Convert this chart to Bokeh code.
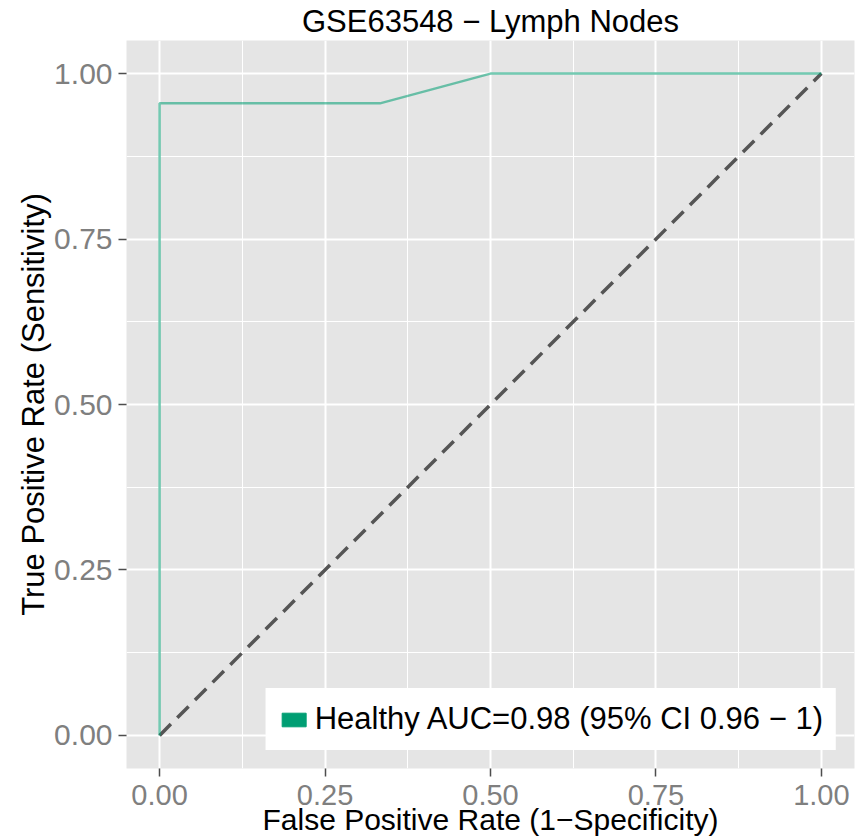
from bokeh.plotting import figure
from bokeh.models import FixedTicker, Range1d, Legend, LegendItem
from bokeh.embed import file_html
from bokeh.resources import INLINE

# ROC curve data
fpr = [0.0, 0.0, 0.333, 0.5, 1.0]
tpr = [0.0, 0.955, 0.955, 1.0, 1.0]
diag_x = [0.0, 1.0]
diag_y = [0.0, 1.0]
ticks = [0.0, 0.25, 0.5, 0.75, 1.0]
minor = [0.125, 0.375, 0.625, 0.875]
tick_labels = {0.0: "0.00", 0.25: "0.25", 0.5: "0.50", 0.75: "0.75", 1.0: "1.00"}
legend_label = "Healthy AUC=0.98 (95% CI 0.96 \u2212 1)"
title_text = "GSE63548 \u2212 Lymph Nodes"
# legend-key stand-in (placed outside the visible range)
key_x = [-10.0]
key_y = [-10.0]

FONT = "Liberation Sans"

p = figure(width=868, height=840, output_backend="svg", toolbar_location=None,
           x_range=Range1d(-0.05, 1.05), y_range=Range1d(-0.05, 1.05),
           min_border_left=126, min_border_right=14, min_border_top=40, min_border_bottom=72)
p.title.text = title_text
p.title.align = "center"
p.title.text_font = FONT
p.title.text_font_size = "31px"
p.title.text_font_style = "normal"
p.title.text_color = "black"
p.title.standoff = 3

p.background_fill_color = "#E5E5E5"
p.border_fill_color = "white"
p.outline_line_color = None

for ax in (p.xaxis[0], p.yaxis[0]):
    ax.ticker = FixedTicker(ticks=ticks, minor_ticks=minor)
    ax.major_label_overrides = tick_labels
    ax.major_label_text_font = FONT
    ax.major_label_text_color = "#7F7F7F"
    ax.axis_line_color = None
    ax.major_tick_in = 0
    ax.major_tick_out = 8
    ax.major_tick_line_color = "#4D4D4D"
    ax.major_tick_line_width = 1.5
    ax.minor_tick_line_color = None
    ax.axis_label_text_font = FONT
    ax.axis_label_text_font_style = "normal"
    ax.axis_label_text_color = "black"

p.xaxis.major_label_text_font_size = "29px"
p.yaxis.major_label_text_font_size = "30px"
p.xaxis.axis_label_text_font_size = "30px"
p.yaxis.axis_label_text_font_size = "31px"
p.xaxis.axis_label = "False Positive Rate (1\u2212Specificity)"
p.yaxis.axis_label = "True Positive Rate (Sensitivity)"
p.xaxis.major_label_standoff = 8
p.xaxis.axis_label_standoff = -5
p.yaxis.major_label_standoff = 6
p.yaxis.axis_label_standoff = 0

for g in (p.xgrid[0], p.ygrid[0]):
    g.grid_line_color = "white"
    g.grid_line_width = 2
    g.minor_grid_line_color = "white"
    g.minor_grid_line_width = 1

p.line(diag_x, diag_y, line_color="#555555", line_width=3.5, line_dash="16 9")
roc = p.line(fpr, tpr, line_color="#009E73", line_alpha=0.55, line_width=2.5)
key = p.quad(left=key_x, right=key_x, top=key_y, bottom=key_y,
             fill_color="#009E73", line_color="#009E73")

legend = Legend(items=[LegendItem(label=legend_label, renderers=[key])],
                location="bottom_right",
                label_text_font=FONT, label_text_font_size="31px", label_text_color="black",
                background_fill_color="white", background_fill_alpha=1.0,
                border_line_color="white", border_line_width=1,
                glyph_width=30, glyph_height=17,
                margin=18, padding=12, label_standoff=6)
p.add_layout(legend, "center")

open("out.html", "w").write(file_html(p, INLINE))
